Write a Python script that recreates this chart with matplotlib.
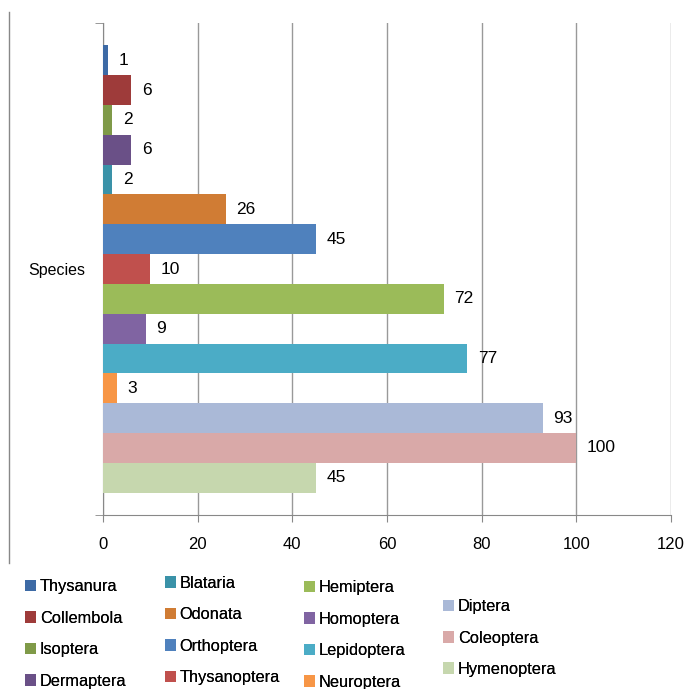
import numpy as np
import matplotlib
matplotlib.use('Agg')
import matplotlib.pyplot as plt
from matplotlib.lines import Line2D

plt.rcParams['font.family'] = ['Liberation Sans', 'DejaVu Sans']

# Data: insect orders and species count (single category "Species")
orders = ['Thysanura', 'Collembola', 'Isoptera', 'Dermaptera', 'Blataria',
          'Odonata', 'Orthoptera', 'Thysanoptera', 'Hemiptera', 'Homoptera',
          'Lepidoptera', 'Neuroptera', 'Diptera', 'Coleoptera', 'Hymenoptera']
species = [1, 6, 2, 6, 2, 26, 45, 10, 72, 9, 77, 3, 93, 100, 45]
colors = ['#3D6AA5', '#9E3B3A', '#7F9A48', '#6A5087', '#3A92A8',
          '#D07C34', '#4F81BD', '#C0504D', '#9BBB59', '#8064A2',
          '#4BACC6', '#F79646', '#AAB9D7', '#D9A9A8', '#C6D7AE']
category = 'Species'
xticks = [0, 20, 40, 60, 80, 100, 120]

W, H = 691, 689
fig = plt.figure(figsize=(W/100, H/100), dpi=100)
ax = fig.add_axes([103/W, 1-515/H, (671-103)/W, (515-23)/H])

gap = 0.75
n = len(orders)
bars = []
for i, (name, v, c) in enumerate(zip(orders, species, colors)):
    y = gap + i + 0.5
    b = ax.barh(y, v, height=1.0, color=c, label=name, zorder=3)
    bars.append(b)
    ax.annotate(str(v), (v, y), xytext=(7.5, 0), textcoords='offset points',
                va='center', ha='left', fontsize=12.5, color='black')

ax.set_xlim(0, 120)
ax.set_ylim(n + 2*gap, 0)
ax.set_xticks(xticks)
ax.set_xticklabels([str(t) for t in xticks], fontsize=12)
ax.tick_params(axis='x', length=5, color='#888888', pad=11)
ax.set_yticks([(n + 2*gap)/2])
ax.set_yticklabels([category], fontsize=11.5)
ax.tick_params(axis='y', length=0, pad=13)
ax.set_yticks([0, n + 2*gap], minor=True)
ax.tick_params(axis='y', which='minor', length=6, color='#888888')
ax.grid(axis='x', color='#999999', linewidth=1, zorder=0)
for s in ['top', 'right']:
    ax.spines[s].set_visible(False)
for s in ['left', 'bottom']:
    ax.spines[s].set_color('#888888')

# left border line of chart area
fig.add_artist(Line2D([9/W, 9/W], [1-12/H, 1-563/H], color='#888888', linewidth=1))

# legend in four columns
cols = [(0, 4, 25, 634), (4, 8, 165, 630.5), (8, 12, 304, 635), (12, 15, 443, 638)]
for a, b_, x0, yc in cols:
    lg = fig.legend(handles=bars[a:b_], labels=orders[a:b_], loc='center left',
                    bbox_to_anchor=(x0/W, 1-yc/H), frameon=False, fontsize=11.8,
                    handlelength=0.7, handleheight=0.7, handletextpad=0.2,
                    labelspacing=1.0, borderpad=0, borderaxespad=0)
    fig.add_artist(lg)

fig.savefig('out.png', dpi=100)
